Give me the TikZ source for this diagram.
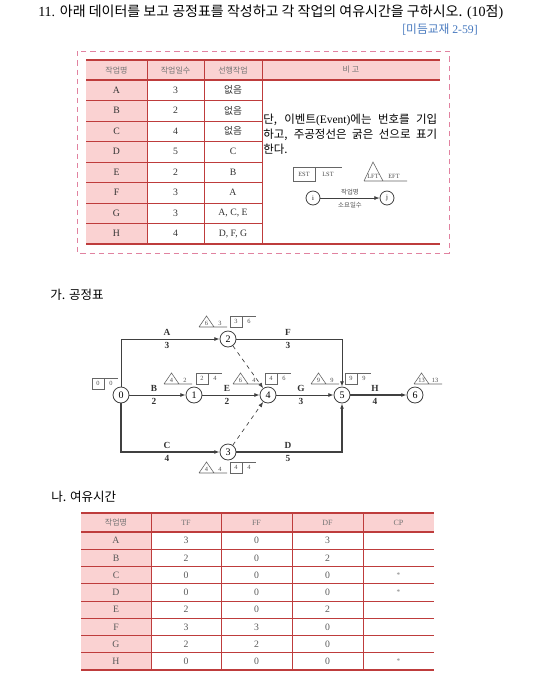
\documentclass[tikz,border=0pt]{standalone}
\usepackage{fontspec}
\setmainfont{Liberation Serif}
\newfontfamily\kr{Noto Sans CJK KR}
\usetikzlibrary{arrows.meta}
\definecolor{cellpink}{RGB}{250,210,210}
\definecolor{rulered}{RGB}{190,60,60}
\definecolor{boxpink}{RGB}{225,130,160}
\definecolor{refblue}{RGB}{70,120,190}
\begin{document}
\begin{tikzpicture}[x=0.75pt,y=-0.75pt,
  ev/.style={circle,draw=black!75,line width=0.6pt,minimum size=12pt,inner sep=0pt,font=\fontsize{7.5}{8}\selectfont},
  act/.style={draw=black!75,line width=0.6pt,-{Latex[length=4pt,width=3pt]}},
  crit/.style={line width=1.3pt},
  dum/.style={dashed,line width=0.5pt},
  lbl/.style={inner sep=0pt,font=\fontsize{7}{8}\selectfont\bfseries,text=black!80},
  ann/.style={draw=black!60,line width=0.45pt},
  tiny/.style={inner sep=0pt,font=\fontsize{4.8}{5}\selectfont,text=black!70},
  cell/.style={inner sep=0pt,font=\fontsize{7.3}{8}\selectfont,text=black!80},
  head/.style={inner sep=0pt,font=\fontsize{6}{7}\selectfont\kr,text=black!55}]
\useasboundingbox (0,0) rectangle (557,687);

\node[anchor=west,inner sep=0pt] (title) at (38,12) {\fontsize{10.5}{12}\selectfont 11. {\kr 아래 데이터를 보고 공정표를 작성하고 각 작업의 여유시간을 구하시오.} (10{\kr 점})};
\node[anchor=east,inner sep=0pt,text=refblue] (src) at (478,30) {\fontsize{8.8}{10}\selectfont{\kr [미듬교재} 2-59]};

\draw[boxpink,line width=0.6pt,dash pattern=on 4pt off 3pt] (77,51) rectangle (449,253);
\fill[cellpink] (86,60) rectangle (440,80);
\fill[cellpink] (86,80) rectangle (147,244);
\foreach \i in {1,...,7}{\draw[rulered,line width=0.6pt] (86,80+20.5*\i) -- (262,80+20.5*\i);}
\draw[rulered,line width=0.9pt] (86,60) -- (440,60) (86,80) -- (440,80) (86,244) -- (440,244);
\foreach \x in {147,204,262}{\draw[rulered,line width=0.6pt] (\x,60) -- (\x,244);}
\foreach \h/\x in {작업명/116.5,작업일수/175.5,선행작업/233,비 고/351}{\node[head] (h\x) at (\x,70) {\h};}
\foreach \n/\d/\p [count=\i] in {A/3/{\kr 없음},B/2/{\kr 없음},C/4/{\kr 없음},D/5/C,E/2/B,F/3/A,G/3/{A, C, E},H/4/{D, F, G}}{
  \node[cell] (n\i) at (116.5,69.75+20.5*\i) {\n};
  \node[cell] (d\i) at (175.5,69.75+20.5*\i) {\d};
  \node[cell] (p\i) at (233,69.75+20.5*\i) {\p};}
\node[anchor=north west,align=left,inner sep=0pt,font=\fontsize{8.6}{11.25}\selectfont] (note) at (263,113.5) {\makebox[130.5pt][s]{\kr 단, 이벤트\rmfamily(Event)\kr 에는 번호를 기입}\\\makebox[130.5pt][s]{\kr 하고, 주공정선은 굵은 선으로 표기}\\{\kr 한다.}};

\draw[ann] (293,167) rectangle (315,181) (315,167) -- (342,167);
\node[tiny] (kest) at (304,174) {EST};
\node[tiny] (klst) at (328,174) {LST};
\draw[ann] (364,181) -- (373,162) -- (383,181) (364,181) -- (407,181);
\node[tiny] (klft) at (373,176.5) {LFT};
\node[tiny] (keft) at (394,176.5) {EFT};
\node[ev,minimum size=10.5pt,font=\fontsize{5}{6}\selectfont] (ki) at (313,198) {i};
\node[ev,minimum size=10.5pt,font=\fontsize{5}{6}\selectfont] (kj) at (387,198) {j};
\draw[act,line width=0.5pt] (ki) -- (kj);
\node[tiny,font=\fontsize{4.8}{5}\selectfont\kr] (kname) at (350,192) {작업명};
\node[tiny,font=\fontsize{4.8}{5}\selectfont\kr] (kdays) at (350,205) {소요일수};

\node[anchor=west,inner sep=0pt] (secA) at (50,295) {\fontsize{9.4}{11}\selectfont\kr 가. 공정표};
\node[ev] (e0) at (121,395) {0};
\node[ev] (e1) at (194,395) {1};
\node[ev] (e2) at (228,339) {2};
\node[ev] (e3) at (228,452) {3};
\node[ev] (e4) at (268,395) {4};
\node[ev] (e5) at (342,395) {5};
\node[ev] (e6) at (415,395) {6};
\draw[act] (e0) |- (e2);
\draw[act] (e0) -- (e1);
\draw[act,crit] (e0) |- (e3);
\draw[act] (e1) -- (e4);
\draw[act] (e2) -| (e5);
\draw[act] (e4) -- (e5);
\draw[act,crit] (e3) -| (e5);
\draw[act,crit] (e5) -- (e6);
\draw[act,dum] (e2) -- (e4);
\draw[act,dum] (e3) -- (e4);
\foreach \x/\y/\n/\d in {167/339/A/3,154/395/B/2,167/452/C/4,227/395/E/2,288/339/F/3,288/452/D/5,301/395/G/3,375/395/H/4}{
  \node[lbl] (l\n) at (\x,\y-7) {\n};
  \node[lbl] (t\n) at (\x,\y+6.5) {\d};}
\foreach \x/\y/\l/\e [count=\i] in {164/384/4/2,199/327/6/3,233/384/6/4,199/473/4/4,311/384/9/9,414/384/13/13}{
  \draw[ann] (\x,\y) -- ++(7.5,-11) -- ++(7.5,11) (\x,\y) -- ++(28,0);
  \node[tiny] (lf\i) at (\x+7.5,\y-3.5) {\l};
  \node[tiny] (ef\i) at (\x+21,\y-4) {\e};}
\foreach \x/\y/\s/\f [count=\i] in {92/389/0/0,196/384/2/4,230/327/3/6,265/384/4/6,230/473/4/4,345/384/9/9}{
  \draw[ann] (\x,\y) rectangle ++(12,-11) (\x+12,\y-11) -- ++(14,0);
  \node[tiny] (es\i) at (\x+6,\y-5.5) {\s};
  \node[tiny] (ls\i) at (\x+19,\y-5.5) {\f};}

\node[anchor=west,inner sep=0pt] (secB) at (51,497) {\fontsize{9.4}{11}\selectfont\kr 나. 여유시간};
\fill[cellpink] (81,513) rectangle (434,532);
\fill[cellpink] (81,532) rectangle (151,670);
\foreach \i in {1,...,7}{\draw[rulered,line width=0.6pt] (81,532+17.25*\i) -- (434,532+17.25*\i);}
\draw[rulered,line width=0.9pt] (81,513) -- (434,513) (81,532) -- (434,532) (81,670) -- (434,670);
\foreach \x in {151,221,292,363}{\draw[rulered,line width=0.6pt] (\x,513) -- (\x,670);}
\foreach \h/\x in {{\kr 작업명}/116,TF/186,FF/256.5,DF/327.5,CP/398.5}{\node[head,font=\fontsize{6}{7}\selectfont] (g\x) at (\x,522.5) {\h};}
\foreach \n/\a/\b/\c/\s [count=\i] in {A/3/0/3/,B/2/0/2/,C/0/0/0/*,D/0/0/0/*,E/2/0/2/,F/3/3/0/,G/2/2/0/,H/0/0/0/*}{
  \node[cell,text=black!65] (m\i) at (116,523.4+17.25*\i) {\n};
  \node[cell,text=black!65] (tf\i) at (186,523.4+17.25*\i) {\a};
  \node[cell,text=black!65] (ff\i) at (256.5,523.4+17.25*\i) {\b};
  \node[cell,text=black!65] (df\i) at (327.5,523.4+17.25*\i) {\c};
  \node[cell,text=black!50,font=\fontsize{5.5}{6}\selectfont] (cp\i) at (398.5,523.4+17.25*\i) {\s};}
\end{tikzpicture}
\end{document}
